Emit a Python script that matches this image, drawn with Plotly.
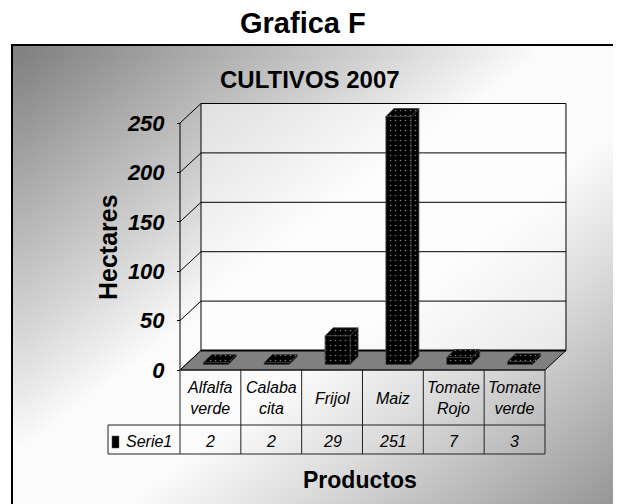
import plotly.graph_objects as go
import numpy as np

# ---------------- data ----------------
categories = ["Alfalfa verde", "Calabacita", "Frijol", "Maiz", "Tomate Rojo", "Tomate verde"]
category_labels = ["Alfalfa<br>verde", "Calaba<br>cita", "Frijol", "Maiz", "Tomate<br>Rojo", "Tomate<br>verde"]
values = [2, 2, 29, 251, 7, 3]
y_ticks = [0, 50, 100, 150, 200, 250]
series_name = "Serie1"
page_title = "Grafica F"
chart_title = "CULTIVOS 2007"
x_title = "Productos"
y_title = "Hectares"

# ---------------- layout geometry (reference pixels) ----------------
W, H = 621, 504
OFF = 8.0       # page body margin compensation
X0 = 180.0      # px of left edge of first category (front plane)
CW = 60.83      # px per category
Y0 = 370.0      # px of value 0 (front plane)
K = 0.988       # px per value unit
DXP, DYP = 21.0, 19.5      # depth of floor / walls in px
F1, F2 = 5.5, 13.5         # bar front/back depth in px
BW = 25.0                  # bar width px


def xd(px):
    return -0.5 + (px - X0) / CW


def yd(py):
    return (Y0 - py) / K


def pxp(px):
    return (px - OFF) / W


def pyp(py):
    return 1 - (py - OFF) / H


ddx, ddy = DXP / CW, DYP / K
fx1, fy1 = F1 / CW, F1 / K
fx2, fy2 = F2 / CW, F2 / K
hw = BW / 2 / CW
n = len(categories)
xa, xb = -0.5, n - 0.5
ymax = max(y_ticks)

REG = "Liberation Sans, Arial, sans-serif"

fig = go.Figure()

# ---------------- background gradient ----------------
N = 24
gx_px = np.linspace(12, 640, N + 1)
gy_px = np.linspace(45, 525, N + 1)
cx = (gx_px[:-1] + gx_px[1:]) / 2
cy = (gy_px[:-1] + gy_px[1:]) / 2
U = (cx - 12) / (640 - 12)
V = (cy - 45) / (525 - 45)
Z = [[float(U[j] + V[i]) for j in range(N)] for i in range(N)]
fig.add_trace(go.Heatmap(
    x=[xd(p) for p in gx_px], y=[yd(p) for p in gy_px], z=Z,
    zmin=0, zmax=2, zsmooth="best", showscale=False, hoverinfo="skip",
    colorscale=[[0, "#7c7c7c"], [0.15, "#a9a9a9"], [0.3, "#d3d3d3"], [0.43, "#fbfbfb"],
                [0.57, "#fbfbfb"], [0.7, "#dcdcdc"], [0.85, "#b3b3b3"], [1, "#8a8a8a"]],
))

# ---------------- back wall ----------------
fig.add_trace(go.Scatter(
    x=[xa + ddx, xb + ddx, xb + ddx, xa + ddx, xa + ddx],
    y=[ddy, ddy, ymax + ddy, ymax + ddy, ddy],
    mode="lines", fill="toself", fillcolor="rgba(255,255,255,0.55)",
    line=dict(color="black", width=1), hoverinfo="skip", showlegend=False))

# grid lines on back wall and side diagonals
gxs, gys = [], []
for t in y_ticks:
    gxs += [xa, xa + ddx, xb + ddx, None]
    gys += [t, t + ddy, t + ddy, None]
fig.add_trace(go.Scatter(x=gxs, y=gys, mode="lines",
                         line=dict(color="black", width=1), hoverinfo="skip", showlegend=False))
# front vertical axis line
fig.add_trace(go.Scatter(x=[xa, xa], y=[0, ymax], mode="lines",
                         line=dict(color="black", width=1), hoverinfo="skip", showlegend=False))

# ---------------- floor ----------------
fig.add_trace(go.Scatter(
    x=[xa, xb, xb + ddx, xa + ddx, xa], y=[0, 0, ddy, ddy, 0],
    mode="lines", fill="toself", fillcolor="#808080",
    line=dict(color="black", width=1), hoverinfo="skip", showlegend=False))
fig.add_trace(go.Scatter(x=[xa + ddx, xb + ddx], y=[ddy, ddy], mode="lines",
                         line=dict(color="black", width=2), hoverinfo="skip", showlegend=False))

# ---------------- 3D bars ----------------
pat = dict(shape=".", bgcolor="black", fgcolor="white", size=5, solidity=0.08)
for i, v in enumerate(values):
    L, R = i - hw + fx1, i + hw + fx1
    # side face
    fig.add_trace(go.Scatter(
        x=[R, R + (fx2 - fx1), R + (fx2 - fx1), R, R],
        y=[fy1, fy2, fy2 + v, fy1 + v, fy1],
        mode="lines", fill="toself", fillcolor="black", fillpattern=pat,
        line=dict(color="#404040", width=0.8), hoverinfo="skip", showlegend=False))
    # top face
    fig.add_trace(go.Scatter(
        x=[L, R, R + (fx2 - fx1), L + (fx2 - fx1), L],
        y=[fy1 + v, fy1 + v, fy2 + v, fy2 + v, fy1 + v],
        mode="lines", fill="toself", fillcolor="black", fillpattern=pat,
        line=dict(color="#404040", width=0.8), hoverinfo="skip", showlegend=False))
    # front face
    fig.add_trace(go.Scatter(
        x=[L, R, R, L, L], y=[fy1, fy1, fy1 + v, fy1 + v, fy1],
        mode="lines", fill="toself", fillcolor="black", fillpattern=pat,
        line=dict(color="#404040", width=0.8), name=categories[i],
        hovertext=f"{categories[i]}: {v}", hoverinfo="text", showlegend=False))

# ---------------- data table ----------------
r0, r1, r2 = yd(370), yd(425), yd(454)
xl = xd(108)
shapes = []
line_t = dict(color="#222222", width=1)
for k in range(n + 1):
    shapes.append(dict(type="line", xref="x", yref="y", x0=xa + k, x1=xa + k, y0=r0, y1=r2, line=line_t))
shapes.append(dict(type="line", xref="x", yref="y", x0=xa, x1=xb, y0=r0, y1=r0, line=line_t))
shapes.append(dict(type="line", xref="x", yref="y", x0=xl, x1=xb, y0=r1, y1=r1, line=line_t))
shapes.append(dict(type="line", xref="x", yref="y", x0=xl, x1=xb, y0=r2, y1=r2, line=line_t))
shapes.append(dict(type="line", xref="x", yref="y", x0=xl, x1=xl, y0=r1, y1=r2, line=line_t))
# legend key
shapes.append(dict(type="rect", xref="x", yref="y", x0=xd(112), x1=xd(119), y0=yd(436), y1=yd(448),
                   fillcolor="black", line=dict(color="#555555", width=0.5)))
# outer chart-area frame
shapes.append(dict(type="rect", xref="paper", yref="paper", x0=pxp(12), x1=1.05, y0=-0.05, y1=pyp(45),
                   line=dict(color="black", width=2), fillcolor="rgba(0,0,0,0)"))

ann = []
tfont = dict(family=REG, size=16, color="black", style="italic")
for i, lab in enumerate(category_labels):
    ann.append(dict(x=i, y=yd(398), xref="x", yref="y", text=lab, showarrow=False,
                    font=tfont, align="center", xanchor="center", yanchor="middle"))
    ann.append(dict(x=i, y=yd(441), xref="x", yref="y", text=str(values[i]), showarrow=False,
                    font=tfont, xanchor="center", yanchor="middle"))
ann.append(dict(x=xd(124), y=yd(441), xref="x", yref="y", text=series_name, showarrow=False,
                font=tfont, xanchor="left", yanchor="middle"))

# titles
ann.append(dict(x=pxp(303), y=pyp(23), xref="paper", yref="paper", text=f"<b>{page_title}</b>",
                showarrow=False, font=dict(family=REG, size=29, color="black"),
                xanchor="center", yanchor="middle"))
ann.append(dict(x=pxp(310), y=pyp(80), xref="paper", yref="paper", text=f"<b>{chart_title}</b>",
                showarrow=False, font=dict(family=REG, size=24, color="black"),
                xanchor="center", yanchor="middle"))
ann.append(dict(x=pxp(360), y=pyp(480), xref="paper", yref="paper", text=f"<b>{x_title}</b>",
                showarrow=False, font=dict(family=REG, size=23, color="black"),
                xanchor="center", yanchor="middle"))
ann.append(dict(x=pxp(108), y=pyp(247), xref="paper", yref="paper", text=f"<b>{y_title}</b>",
                showarrow=False, textangle=-90, font=dict(family=REG, size=25, color="black"),
                xanchor="center", yanchor="middle"))

fig.update_layout(
    width=W, height=H, margin=dict(l=0, r=0, t=0, b=0),
    paper_bgcolor="white", plot_bgcolor="rgba(0,0,0,0)",
    showlegend=False, shapes=shapes, annotations=ann,
    xaxis=dict(range=[xd(OFF), xd(OFF + W)], visible=False, fixedrange=True),
    yaxis=dict(range=[yd(OFF + H), yd(OFF)], anchor="free", position=pxp(X0), side="left",
               tickvals=y_ticks, ticktext=[str(t) for t in y_ticks],
               ticks="outside", ticklen=3, tickcolor="black", tickwidth=1,
               ticklabelstandoff=8,
               tickfont=dict(family=REG, size=22, color="black", weight="bold", style="italic"),
               showgrid=False, zeroline=False, showline=False, fixedrange=True),
)

fig.write_html("out.html")
